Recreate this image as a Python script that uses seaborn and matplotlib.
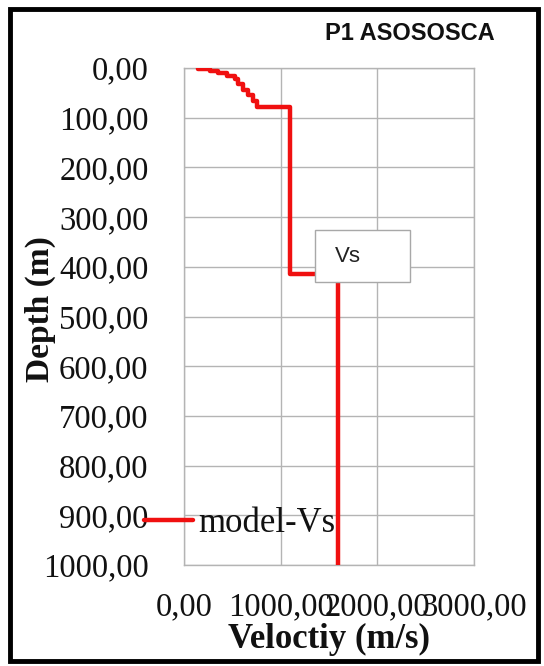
import matplotlib
matplotlib.use("Agg")
import numpy as np
import pandas as pd
import seaborn as sns
import matplotlib.pyplot as plt
from matplotlib.patches import Rectangle
from matplotlib.ticker import FuncFormatter

# ---- data ----
layer_vs = [148, 270, 352, 442, 528, 560, 611, 663, 715, 756, 1100, 1590]
layer_bottom = [2, 6, 10, 16, 23, 33, 44, 55, 66, 78, 415, 1000]
x_ticks = [0, 1000, 2000, 3000]
y_ticks = [0, 100, 200, 300, 400, 500, 600, 700, 800, 900, 1000]
title_text = "P1 ASOSOSCA"
series_label = "model-Vs"
box_label = "Vs"
x_label = "Veloctiy (m/s)"
y_label = "Depth (m)"

# build step profile from layers
layer_top = [0] + layer_bottom[:-1]
xs, ys = [], []
for v, t, b in zip(layer_vs, layer_top, layer_bottom):
    xs += [v, v]
    ys += [t, b]
df = pd.DataFrame({"Velocity": xs, "Depth": ys})

sns.set_theme(style="white")
plt.rcParams["font.family"] = ["Liberation Serif", "DejaVu Serif"]

W, H = 544, 666
fig = plt.figure(figsize=(W / 100, H / 100), dpi=100)
fig.patch.set_facecolor("white")

ax_l, ax_r, ax_t, ax_b = 184, 474, 68, 565
ax = fig.add_axes([ax_l / W, 1 - ax_b / H, (ax_r - ax_l) / W, (ax_b - ax_t) / H])

sns.lineplot(data=df, x="Velocity", y="Depth", sort=False, estimator=None,
             color="#f01010", lw=3.2, label=series_label, ax=ax, zorder=3)

ax.set_xlim(0, 3000)
ax.set_ylim(1000, 0)
ax.set_xticks(x_ticks)
ax.set_yticks(y_ticks)
fmt = FuncFormatter(lambda v, _: f"{v:.2f}".replace(".", ","))
ax.xaxis.set_major_formatter(fmt)
ax.yaxis.set_major_formatter(fmt)
ax.set_xlabel("")
ax.set_ylabel("")

gridc = "#b4b4b4"
ax.grid(True, color=gridc, lw=1)
for s in ax.spines.values():
    s.set_color(gridc)
    s.set_linewidth(1)
ax.tick_params(axis="both", direction="out", length=6.5, width=1, color=gridc,
               labelsize=23.5, labelcolor="#111111")
ax.tick_params(axis="y", pad=19)
ax.tick_params(axis="x", pad=13)

leg = ax.legend(loc="center left", bbox_to_anchor=(144 / W, 1 - 524 / H),
                bbox_transform=fig.transFigure, frameon=False, fontsize=25,
                handlelength=1.4, handletextpad=0.15, borderpad=0, borderaxespad=0)
for t in leg.get_texts():
    t.set_color("#111111")

fig.text(329 / W, 1 - 639 / H, x_label, ha="center", va="center",
         fontsize=25, fontweight="bold", color="#111111")
fig.text(40 / W, 1 - 309 / H, y_label, ha="center", va="center", rotation=90,
         fontsize=24, fontweight="bold", color="#111111")
fig.text(410 / W, 1 - 33 / H, title_text, ha="center", va="center",
         fontsize=17, fontweight="bold", color="#111111",
         family=["Liberation Sans", "DejaVu Sans"])

# "Vs" label box
fig.patches.append(Rectangle((315 / W, 1 - 282 / H), 95 / W, 52 / H,
                             transform=fig.transFigure, facecolor="white",
                             edgecolor="#a8a8a8", lw=1, zorder=5))
fig.text(335 / W, 1 - 256 / H, box_label, ha="left", va="center", fontsize=16,
         color="#222222", family=["Liberation Sans", "DejaVu Sans"], zorder=6)

# outer border
fig.patches.append(Rectangle((10 / W, 1 - 661 / H), 528 / W, 652 / H,
                             transform=fig.transFigure, fill=False,
                             edgecolor="black", lw=3.5, zorder=10))

fig.savefig("out.png", dpi=100)
